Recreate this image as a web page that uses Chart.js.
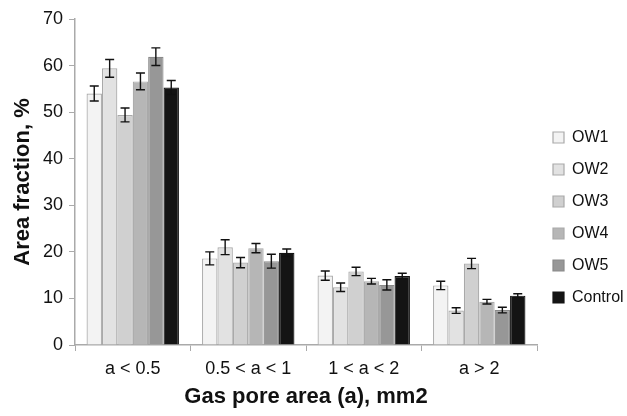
<!DOCTYPE html>
<html>
<head>
<meta charset="utf-8">
<script src="https://cdn.jsdelivr.net/npm/chart.js@4.4.1/dist/chart.umd.min.js"></script>
<style>
  html, body { margin: 0; padding: 0; background: #fff; }
  #wrap { width: 627px; height: 416px; }
</style>
</head>
<body>
<div id="wrap"><canvas id="chart"></canvas></div>
<script>
// --- data ---
const categories = ['a < 0.5', '0.5 < a < 1', '1 < a < 2', 'a > 2'];
const seriesNames = ['OW1', 'OW2', 'OW3', 'OW4', 'OW5', 'Control'];

const ow1 = [54.0, 18.6, 14.9, 12.8];
const ow2 = [59.4, 21.0, 12.4, 7.4];
const ow3 = [49.4, 17.7, 15.8, 17.5];
const ow4 = [56.6, 20.8, 13.7, 9.3];
const ow5 = [61.9, 18.0, 12.9, 7.5];
const control = [55.3, 19.8, 14.8, 10.6];

// standard errors (half height of each error bar)
const ow1Err = [1.6, 1.4, 1.0, 0.9];
const ow2Err = [1.9, 1.6, 0.9, 0.6];
const ow3Err = [1.5, 1.1, 0.9, 1.1];
const ow4Err = [1.8, 1.0, 0.6, 0.5];
const ow5Err = [1.9, 1.5, 1.1, 0.6];
const controlErr = [1.5, 0.8, 0.6, 0.4];

const yTicks = [0, 10, 20, 30, 40, 50, 60, 70];

const values = [ow1, ow2, ow3, ow4, ow5, control];
const errors = [ow1Err, ow2Err, ow3Err, ow4Err, ow5Err, controlErr];
const fills = ['#f3f3f3', '#e2e2e2', '#d0d0d0', '#b6b6b6', '#979797', '#141414'];
const borders = ['#a9a9a9', '#a9a9a9', '#a9a9a9', '#a9a9a9', '#8a8a8a', '#141414'];

const FONT = 'Liberation Sans, Arial, sans-serif';

// error bars drawn on top of the bars, using the y scale
const errorBars = {
    id: 'errorBars',
    afterDatasetsDraw(chart) {
        const ctx = chart.ctx;
        const y = chart.scales.y;
        ctx.save();
        ctx.strokeStyle = '#111';
        ctx.lineWidth = 1.4;
        chart.data.datasets.forEach((ds, i) => {
            const meta = chart.getDatasetMeta(i);
            meta.data.forEach((bar, j) => {
                const v = ds.data[j], e = errors[i][j];
                const top = y.getPixelForValue(v + e);
                const bot = y.getPixelForValue(v - e);
                const cap = 4.5;
                ctx.beginPath();
                ctx.moveTo(bar.x, top); ctx.lineTo(bar.x, bot);
                ctx.moveTo(bar.x - cap, top); ctx.lineTo(bar.x + cap, top);
                ctx.moveTo(bar.x - cap, bot); ctx.lineTo(bar.x + cap, bot);
                ctx.stroke();
            });
        });
        ctx.restore();
    }
};

const ctx = document.getElementById('chart');
new Chart(ctx, {
    type: 'bar',
    data: {
        labels: categories,
        datasets: seriesNames.map((name, i) => ({
            label: name,
            data: values[i],
            backgroundColor: fills[i],
            borderColor: borders[i],
            borderWidth: 1.2,
            categoryPercentage: 0.8,
            barPercentage: 1.0
        }))
    },
    options: {
        responsive: true,
        maintainAspectRatio: false,
        animation: false,
        layout: { padding: { top: 19, right: 0, bottom: 0, left: 0 } },
        plugins: {
            tooltip: { enabled: false },
            legend: {
                position: 'right',
                maxWidth: 90,
                labels: {
                    boxWidth: 11,
                    boxHeight: 11,
                    padding: 16,
                    color: '#111',
                    font: { family: FONT, size: 16 }
                }
            }
        },
        scales: {
            x: {
                afterFit(scale) { scale.height = 71; },
                grid: {
                    display: true,
                    drawOnChartArea: false,
                    drawTicks: true,
                    tickLength: 6,
                    color: '#aaaaaa'
                },
                border: { color: '#aaaaaa', width: 1.5 },
                ticks: {
                    color: '#111',
                    padding: 7,
                    font: { family: FONT, size: 18 }
                },
                title: {
                    display: true,
                    text: 'Gas pore area (a), mm2',
                    color: '#111',
                    padding: { top: 4, bottom: 6 },
                    font: { family: FONT, size: 22, weight: 'bold' }
                }
            },
            y: {
                min: 0,
                max: 70,
                afterBuildTicks(scale) {
                    scale.ticks = yTicks.map(v => ({ value: v }));
                },
                afterFit(scale) { scale.width = 75; },
                grid: {
                    display: true,
                    drawOnChartArea: false,
                    drawTicks: true,
                    tickLength: 6,
                    color: '#aaaaaa'
                },
                border: { color: '#aaaaaa', width: 1.5 },
                ticks: {
                    color: '#111',
                    padding: 6,
                    font: { family: FONT, size: 18 }
                },
                title: {
                    display: true,
                    text: 'Area fraction, %',
                    color: '#111',
                    padding: { top: 10, bottom: 4 },
                    font: { family: FONT, size: 22, weight: 'bold' }
                }
            }
        }
    },
    plugins: [errorBars]
});
</script>
</body>
</html>
